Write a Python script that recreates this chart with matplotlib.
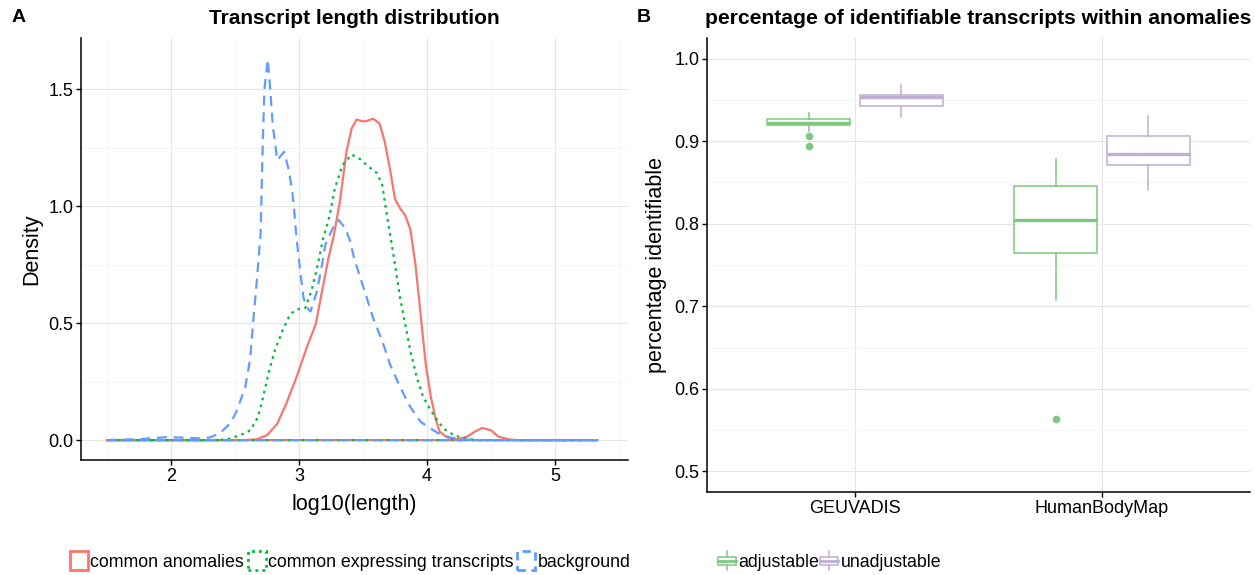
import matplotlib
matplotlib.use("Agg")
import matplotlib.pyplot as plt
import numpy as np
from matplotlib.patches import Rectangle
from matplotlib.lines import Line2D
from matplotlib.legend_handler import HandlerBase
from matplotlib.ticker import MultipleLocator

plt.rcParams['font.family'] = ['Liberation Sans', 'DejaVu Sans']

# ---- panel A: density curves (log10 length vs density)
anom_x = [1.50, 2.56, 2.67, 2.75, 2.83, 2.90, 2.98, 3.06, 3.13, 3.18, 3.23, 3.27,
          3.32, 3.37, 3.41, 3.45, 3.49, 3.52, 3.58, 3.63, 3.67, 3.71, 3.75, 3.79,
          3.83, 3.87, 3.91, 3.95, 3.99, 4.03, 4.07, 4.10, 4.16, 4.24, 4.31, 4.37,
          4.43, 4.50, 4.56, 4.65, 4.72, 5.33]
anom_y = [0, 0, 0.003, 0.021, 0.07, 0.155, 0.268, 0.395, 0.494, 0.636, 0.777, 0.87,
          1.02, 1.23, 1.33, 1.37, 1.363, 1.362, 1.373, 1.352, 1.274, 1.16, 1.03, 0.99,
          0.96, 0.90, 0.749, 0.537, 0.325, 0.184, 0.085, 0.035, 0.011, 0.004, 0.014, 0.035,
          0.052, 0.042, 0.014, 0.002, 0, 0]

expr_x = [1.50, 2.30, 2.44, 2.54, 2.62, 2.68, 2.72, 2.76, 2.81, 2.87, 2.93, 2.98,
          3.05, 3.10, 3.14, 3.19, 3.24, 3.28, 3.34, 3.41, 3.48, 3.54, 3.61, 3.65,
          3.67, 3.69, 3.71, 3.75, 3.79, 3.83, 3.87, 3.92, 3.97, 4.03, 4.08, 4.13,
          4.21, 4.29, 4.39, 5.33]
expr_y = [0, 0, 0.003, 0.021, 0.042, 0.099, 0.184, 0.282, 0.381, 0.466, 0.537, 0.558,
          0.565, 0.643, 0.734, 0.864, 0.96, 1.076, 1.175, 1.22, 1.20, 1.17, 1.14, 1.09,
          1.02, 0.95, 0.885, 0.749, 0.607, 0.494, 0.381, 0.268, 0.184, 0.127, 0.085, 0.049,
          0.021, 0.007, 0, 0]

bg_x = [1.50, 1.75, 1.98, 2.23, 2.30, 2.38, 2.46, 2.51, 2.58, 2.62, 2.64, 2.67,
        2.70, 2.717, 2.73, 2.756, 2.775, 2.795, 2.83, 2.884, 2.917, 2.944, 2.96, 2.98,
        3.01, 3.035, 3.074, 3.09, 3.14, 3.18, 3.205, 3.27, 3.31, 3.36, 3.40, 3.43,
        3.505, 3.58, 3.65, 3.71, 3.79, 3.87, 3.95, 4.03, 4.10, 4.18, 4.29, 4.40, 5.33]
bg_y = [0, 0.004, 0.013, 0.007, 0.011, 0.028, 0.07, 0.12, 0.226, 0.353, 0.494, 0.678,
        0.88, 1.274, 1.5, 1.627, 1.5, 1.345, 1.196, 1.232, 1.16, 1.076, 1.0, 0.864,
        0.72, 0.607, 0.558, 0.55, 0.636, 0.75, 0.833, 0.914, 0.94, 0.907, 0.85, 0.777,
        0.65, 0.52, 0.424, 0.325, 0.226, 0.141, 0.078, 0.049, 0.025, 0.011, 0.003, 0, 0]

dens_labels = ["common anomalies", "common expressing transcripts", "background"]
dens_colors = ["#F8766D", "#00BA38", "#619CFF"]

# ---- panel B: box statistics per dataset
datasets = ["GEUVADIS", "HumanBodyMap"]
adj_whislo = [0.912, 0.708]
adj_q1 = [0.919, 0.764]
adj_med = [0.922, 0.805]
adj_q3 = [0.927, 0.846]
adj_whishi = [0.934, 0.879]
adj_fliers = [[0.906, 0.894], [0.564]]
unadj_whislo = [0.929, 0.841]
unadj_q1 = [0.943, 0.871]
unadj_med = [0.954, 0.885]
unadj_q3 = [0.956, 0.906]
unadj_whishi = [0.968, 0.930]
unadj_fliers = [[], []]
box_labels = ["adjustable", "unadjustable"]
box_colors = ["#7FC97F", "#BEAED4"]

W, H = 1255, 575
fig = plt.figure(figsize=(W / 100, H / 100), dpi=100)

def px_axes(l, t, r, b):
    return fig.add_axes([l / W, 1 - b / H, (r - l) / W, (b - t) / H])

def style(ax):
    for s in ["top", "right"]:
        ax.spines[s].set_visible(False)
    for s in ["left", "bottom"]:
        ax.spines[s].set_linewidth(1.1)
    ax.tick_params(which="major", length=3.5, width=1, labelsize=13, colors="black", pad=2)
    ax.tick_params(which="minor", length=0)
    ax.grid(which="major", color="#E6E6E6", lw=0.8)
    ax.grid(which="minor", color="#F3F3F3", lw=0.6)
    ax.set_axisbelow(True)

# ---------------- panel A
axA = px_axes(81, 38, 628, 460)
style(axA)
dash_styles = ["-", (0, (1.2, 2.0)), (0, (4.5, 3.0))]
curves = [(anom_x, anom_y), (expr_x, expr_y), (bg_x, bg_y)]
for (xs, ys), col, ls in zip(curves, dens_colors, dash_styles):
    # closed outline like geom_density (curve + baseline)
    xx = list(xs) + [xs[0]]
    yy = list(ys) + [0]
    axA.plot(xx, yy, color=col, lw=1.6, ls=ls, solid_joinstyle="round")
axA.set_xlim(1.297, 5.57)
axA.set_ylim(-0.085, 1.718)
axA.xaxis.set_major_locator(MultipleLocator(1))
axA.xaxis.set_minor_locator(MultipleLocator(0.5))
axA.yaxis.set_major_locator(MultipleLocator(0.5))
axA.yaxis.set_minor_locator(MultipleLocator(0.25))
axA.set_xlabel("log10(length)", fontsize=15.5, labelpad=7)
axA.set_ylabel("Density", fontsize=15.5, labelpad=4)
axA.set_title("Transcript length distribution", fontsize=15, fontweight="bold", pad=10)

# ---------------- panel B
axB = px_axes(707, 38, 1250, 492)
style(axB)
offset, bw = 0.1875, 0.3375
groups = [
    (adj_whislo, adj_q1, adj_med, adj_q3, adj_whishi, adj_fliers, -offset),
    (unadj_whislo, unadj_q1, unadj_med, unadj_q3, unadj_whishi, unadj_fliers, offset),
]
for (wl, q1, md, q3, wh, fl, off), col in zip(groups, box_colors):
    stats = [dict(whislo=wl[i], q1=q1[i], med=md[i], q3=q3[i], whishi=wh[i], fliers=fl[i])
             for i in range(len(datasets))]
    pos = [i + 1 + off for i in range(len(datasets))]
    axB.bxp(stats, positions=pos, widths=bw, showcaps=False, patch_artist=True,
            manage_ticks=False,
            boxprops=dict(facecolor="white", edgecolor=col, lw=1.1),
            whiskerprops=dict(color=col, lw=1.1),
            medianprops=dict(color=col, lw=2.4),
            flierprops=dict(marker="o", markerfacecolor=col, markeredgecolor="none", markersize=5.5))
axB.set_xlim(0.4, 2.6)
axB.set_ylim(0.475, 1.025)
axB.set_xticks(range(1, len(datasets) + 1))
axB.set_xticklabels(datasets)
axB.yaxis.set_major_locator(MultipleLocator(0.1))
axB.yaxis.set_minor_locator(MultipleLocator(0.05))
axB.set_ylabel("percentage identifiable", fontsize=15.5, labelpad=5)
axB.set_title("percentage of identifiable transcripts within anomalies",
              fontsize=15.2, fontweight="bold", pad=10)

fig.text(12 / W, 1 - 18 / H, "A", fontsize=14, fontweight="bold", va="center")
fig.text(637 / W, 1 - 18 / H, "B", fontsize=14, fontweight="bold", va="center")

# ---------------- legends
hA = [Rectangle((0, 0), 1, 1, facecolor="white", edgecolor=c, lw=2.0, ls=ls)
      for c, ls in zip(dens_colors, ["-", (0, (1, 1.5)), (0, (3, 2))])]
fig.legend(hA, dens_labels, loc="center left", bbox_to_anchor=(70 / W, 1 - 561 / H),
           ncol=3, frameon=False, fontsize=12.8, handlelength=1.0, handleheight=1.2,
           handletextpad=0.15, columnspacing=0.2, borderpad=0, borderaxespad=0)

class BoxKey(HandlerBase):
    def create_artists(self, legend, orig_handle, xdescent, ydescent, width, height,
                       fontsize, trans):
        x0, y0 = -xdescent, -ydescent
        c = orig_handle.get_edgecolor()
        cx = x0 + width / 2
        yb, yt = y0 + height * 0.28, y0 + height * 0.72
        box = Rectangle((x0, yb), width, yt - yb, facecolor="white", edgecolor=c, lw=1.1,
                        transform=trans)
        med = Line2D([x0, x0 + width], [(yb + yt) / 2] * 2, color=c, lw=2.0, transform=trans)
        w1 = Line2D([cx, cx], [y0, yb], color=c, lw=1.1, transform=trans)
        w2 = Line2D([cx, cx], [yt, y0 + height], color=c, lw=1.1, transform=trans)
        return [w1, w2, box, med]

hB = [Rectangle((0, 0), 1, 1, facecolor="white", edgecolor=c) for c in box_colors]
fig.legend(hB, box_labels, loc="center left", bbox_to_anchor=(718 / W, 1 - 561 / H),
           ncol=2, frameon=False, fontsize=12.8, handlelength=1.0, handleheight=1.2,
           handletextpad=0.15, columnspacing=0.05, borderpad=0, borderaxespad=0,
           handler_map={Rectangle: BoxKey()})

fig.savefig("out.png", dpi=100)
